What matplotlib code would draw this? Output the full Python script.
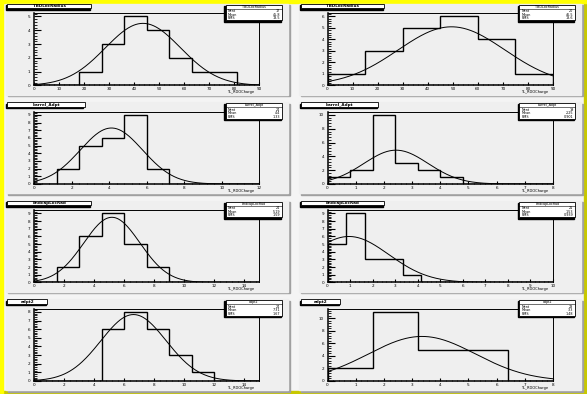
import numpy as np
import matplotlib.pyplot as plt
from matplotlib.patches import Rectangle
from matplotlib.ticker import MultipleLocator, AutoMinorLocator

W, H = 587, 394

# histogram names and axis label
titles = ['TBDLocRadius', 'TBDLocRadius', 'barrel_Adpt', 'barrel_Adpt',
          'EndcapLocRad', 'EndcapLocRad', 'adpt2', 'adpt2']
xlabel = 'TL_RDOCharge'

# x range of each pad (0 .. xmax)
xmax = [90, 90, 12, 8, 15, 10, 15, 8]
xstep = [10, 10, 2, 1, 2, 1, 2, 1]
ystep = [1, 1, 1, 2, 1, 1, 1, 2]

# bin contents (bins equally spaced over 0..xmax)
counts = [
    [0, 0, 1, 3, 5, 4, 2, 1, 1, 0],
    [1, 3, 5, 6, 4, 1],
    [0, 2, 5, 6, 9, 2, 0, 0, 0, 0],
    [1, 2, 10, 3, 2, 1, 0, 0, 0, 0],
    [0, 2, 6, 9, 5, 2, 0, 0, 0, 0],
    [5, 9, 3, 3, 1, 0, 0, 0, 0, 0, 0, 0],
    [0, 0, 0, 6, 8, 6, 3, 1, 0, 0],
    [2, 11, 5, 5, 0],
]

# gaussian fit parameters
gaus_amp = [4.5, 5.1, 7.3, 4.9, 8.5, 6.0, 7.7, 7.1]
gaus_mean = [43.5, 49.5, 4.12, 2.43, 5.18, 0.95, 6.62, 3.35]
gaus_sigma = [15.0, 21.3, 1.66, 1.14, 1.87, 1.77, 2.17, 1.9]


def fx(px):
    return px / W


def fy(py):
    return 1 - py / H


fig = plt.figure(figsize=(W / 100, H / 100), dpi=100)
fig.patch.set_facecolor('#f4f4f4')

# canvas border
bd = 3
fig.patches.append(Rectangle((0, 0), 1, fy(H - bd), transform=fig.transFigure,
                             color='#c8c800', zorder=0))
fig.patches.append(Rectangle((1 - fx(bd), 0), fx(bd), 1, transform=fig.transFigure,
                             color='#c8c800', zorder=0))
fig.patches.append(Rectangle((0, 1 - bd / H), 1, bd / H, transform=fig.transFigure,
                             color='#ffff00', zorder=0))
fig.patches.append(Rectangle((0, 0), fx(bd), 1, transform=fig.transFigure,
                             color='#ffff00', zorder=0))

for i in range(8):
    col = i % 2
    row = i // 2
    x0 = (col * 0.5 + 0.01) * W
    x1 = ((col + 1) * 0.5 - 0.01) * W
    y0 = (row * 0.25 + 0.01) * H
    y1 = ((row + 1) * 0.25 - 0.01) * H
    pw = x1 - x0
    ph = y1 - y0

    # pad with shadow
    fig.patches.append(Rectangle((fx(x0 + 2), fy(y1 + 1.5)), fx(pw), ph / H,
                                 transform=fig.transFigure, color='#a0a0a0', zorder=1))
    fig.patches.append(Rectangle((fx(x0), fy(y1)), fx(pw), ph / H,
                                 transform=fig.transFigure, color='#efefef', zorder=1))

    fl = x0 + 0.1 * pw
    fr = x1 - 0.1 * pw
    ft = y0 + 0.1 * ph
    fb = y1 - 0.1 * ph
    ax = fig.add_axes([fx(fl), fy(fb), fx(fr - fl), (fb - ft) / H])
    ax.set_facecolor('none')
    ax.set_zorder(2)

    c = np.array(counts[i])
    edges = np.linspace(0, xmax[i], len(c) + 1)
    ax.stairs(c, edges, color='black', lw=1.0)

    xs = np.linspace(0, xmax[i], 300)
    ys = gaus_amp[i] * np.exp(-0.5 * ((xs - gaus_mean[i]) / gaus_sigma[i]) ** 2)
    ax.plot(xs, ys, color='black', lw=0.7)

    ax.set_xlim(0, xmax[i])
    ax.set_ylim(0, c.max() * 1.05)
    ax.xaxis.set_major_locator(MultipleLocator(xstep[i]))
    ax.yaxis.set_major_locator(MultipleLocator(ystep[i]))
    ax.xaxis.set_minor_locator(AutoMinorLocator(5))
    ax.yaxis.set_minor_locator(AutoMinorLocator(5))
    ax.tick_params(axis='y', which='major', direction='in', length=4.8, width=0.8,
                   labelsize=3.0, pad=2.5)
    ax.tick_params(axis='y', which='minor', direction='in', length=2.4, width=0.6)
    ax.tick_params(axis='x', which='major', direction='in', length=2.0, width=0.8,
                   labelsize=3.0, pad=1.2)
    ax.tick_params(axis='x', which='minor', direction='in', length=1.0, width=0.6)
    for s in ['left', 'bottom']:
        ax.spines[s].set_linewidth(1.1)
    for s in ['top', 'right']:
        ax.spines[s].set_linewidth(0.7)

    # x axis title
    fig.text(fx(fr - 5), fy(fb + 7), xlabel, ha='right', va='center', fontsize=2.6)

    # title box
    tw = 7 * len(titles[i]) * 0.9 + 8
    tx0 = x0 + 1.5
    fig.patches.append(Rectangle((fx(tx0 - 1.2), fy(y0 + 5.6)), fx(tw), 4.5 / H,
                                 transform=fig.transFigure, color='black', zorder=3))
    fig.patches.append(Rectangle((fx(tx0), fy(y0 + 4.5)), fx(tw), 4.5 / H,
                                 transform=fig.transFigure, facecolor='white',
                                 edgecolor='black', lw=0.6, zorder=4))
    fig.text(fx(tx0 + tw / 2), fy(y0 + 2.3), titles[i], ha='center', va='center',
             fontsize=3, fontweight='bold', zorder=5)

    # stats box
    sx1 = x0 + 0.98 * pw
    sx0 = sx1 - 0.2 * pw
    sy0 = y0 + 0.6
    sy1 = y0 + 16.5
    fig.patches.append(Rectangle((fx(sx0 - 1.2), fy(sy1 + 1.2)), fx(sx1 - sx0), (sy1 - sy0) / H,
                                 transform=fig.transFigure, color='black', zorder=3))
    fig.patches.append(Rectangle((fx(sx0), fy(sy1)), fx(sx1 - sx0), (sy1 - sy0) / H,
                                 transform=fig.transFigure, facecolor='white',
                                 edgecolor='black', lw=0.6, zorder=4))
    centers = 0.5 * (edges[1:] + edges[:-1])
    n = c.sum()
    mean = (c * centers).sum() / n
    rms = np.sqrt((c * (centers - mean) ** 2).sum() / n)
    fig.text(fx((sx0 + sx1) / 2), fy(sy0 + 2.2), titles[i], ha='center', va='center',
             fontsize=2.4, zorder=5)
    fig.lines.append(plt.Line2D([fx(sx0), fx(sx1)], [fy(sy0 + 4.2), fy(sy0 + 4.2)],
                                transform=fig.transFigure, color='black', lw=0.4, zorder=5))
    rows = [('Nent', '%d' % n), ('Mean', '%.3g' % mean), ('RMS', '%.3g' % rms)]
    for k, (lab, val) in enumerate(rows):
        yy = sy0 + 6.5 + k * 3.6
        fig.text(fx(sx0 + 2), fy(yy), lab, ha='left', va='center', fontsize=2.4, zorder=5)
        fig.text(fx(sx1 - 2), fy(yy), val, ha='right', va='center', fontsize=2.4, zorder=5)

plt.savefig('out.png', dpi=100)
